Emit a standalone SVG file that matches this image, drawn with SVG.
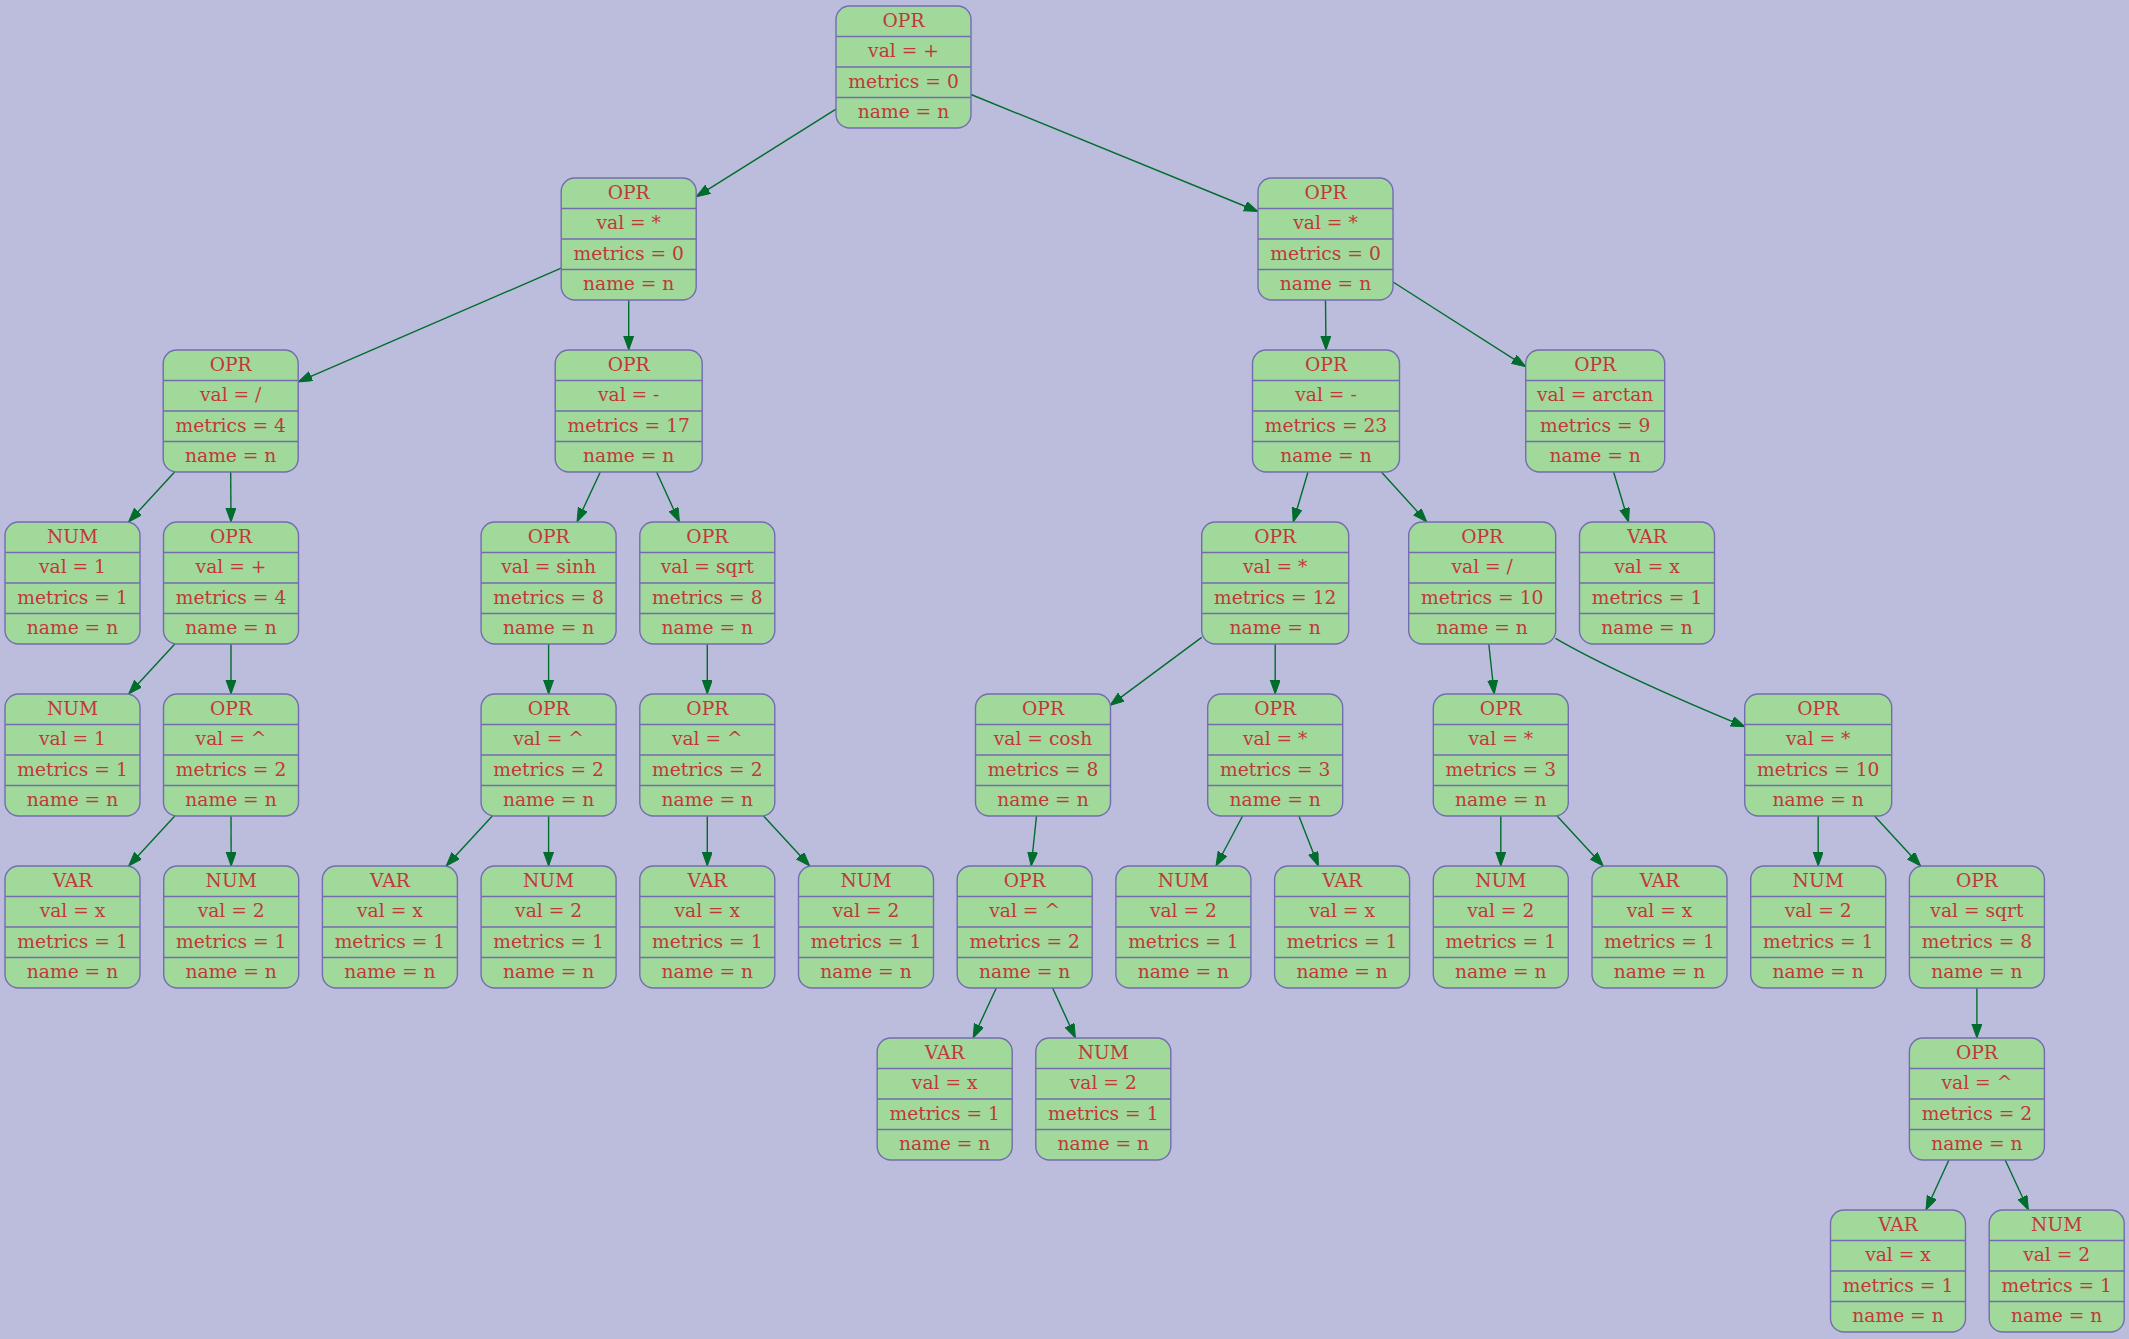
<svg xmlns="http://www.w3.org/2000/svg" width="2129" height="1339" viewBox="0 0 2129 1339">
<style>
.bg{fill:#bcbddc}
.box{fill:#a1d99b;stroke:#756bb1;stroke-width:1.4}
.sep{stroke:#756bb1;stroke-width:1.4;fill:none}
text{font-family:"DejaVu Serif","Liberation Serif",serif;font-size:18.67px;fill:#c03838;text-anchor:middle}
.e{stroke:#006d2c;stroke-width:1.4;fill:none;marker-end:url(#ah)}
</style>
<defs>
<marker id="ah" markerUnits="userSpaceOnUse" markerWidth="15" markerHeight="11" refX="14" refY="5" orient="auto">
<path d="M0,0L14,5L0,10z" fill="#006d2c" stroke="#006d2c" stroke-width="1"/>
</marker>
<g id="b135"><rect class="box" width="135" height="122" rx="13.5"/><path class="sep" d="M0,30.5H135M0,61H135M0,91.5H135"/></g>
<g id="b147"><rect class="box" width="147" height="122" rx="13.5"/><path class="sep" d="M0,30.5H147M0,61H147M0,91.5H147"/></g>
<g id="b139"><rect class="box" width="139" height="122" rx="13.5"/><path class="sep" d="M0,30.5H139M0,61H139M0,91.5H139"/></g>
</defs>
<rect class="bg" x="0" y="0" width="2129" height="1339"/>
<g id="edges">
<path class="e" d="M836,109.2L696.2,196.8"/>
<path class="e" d="M971,94.5L1258,211.5"/>
<path class="e" d="M561.2,268.2L298.2,381.8"/>
<path class="e" d="M628.7,300L628.7,350"/>
<path class="e" d="M1325.5,300L1326,350"/>
<path class="e" d="M1393,282L1525.7,366.7"/>
<path class="e" d="M174.6,472L128.6,522"/>
<path class="e" d="M230.7,472L231,522"/>
<path class="e" d="M600.3,472L577,522"/>
<path class="e" d="M656.6,472L679.4,522"/>
<path class="e" d="M1308,472L1293.2,522"/>
<path class="e" d="M1381.4,472L1426.8,522"/>
<path class="e" d="M1613.6,472L1628.6,522"/>
<path class="e" d="M174.8,644L128.7,694"/>
<path class="e" d="M231,644L231,694"/>
<path class="e" d="M548.6,644L548.6,694"/>
<path class="e" d="M707.3,644L707.3,694"/>
<path class="e" d="M1201.7,637.4L1110,705.4"/>
<path class="e" d="M1275.2,644L1275.2,694"/>
<path class="e" d="M1488.8,644L1494.2,694"/>
<path class="e" d="M1555.5,638.3C1610,670 1690,704 1745,726.7"/>
<path class="e" d="M174.8,816L128.7,866"/>
<path class="e" d="M231,816L231.2,866"/>
<path class="e" d="M492.3,816L446.2,866"/>
<path class="e" d="M548.6,816L548.6,866"/>
<path class="e" d="M707.3,816L707.3,866"/>
<path class="e" d="M763.6,816L809.7,866"/>
<path class="e" d="M1036.5,816L1031.2,866"/>
<path class="e" d="M1242.6,816L1216,866"/>
<path class="e" d="M1298.9,816L1318.4,866"/>
<path class="e" d="M1500.8,816L1500.8,866"/>
<path class="e" d="M1557.1,816L1603.2,866"/>
<path class="e" d="M1818.2,816L1818.2,866"/>
<path class="e" d="M1874.5,816L1920.6,866"/>
<path class="e" d="M996.3,988L973.1,1038"/>
<path class="e" d="M1052.6,988L1075.4,1038"/>
<path class="e" d="M1976.9,988L1976.9,1038"/>
<path class="e" d="M1948.9,1160L1926,1210"/>
<path class="e" d="M2005.2,1160L2028.4,1210"/>
</g>
<g id="n0" transform="translate(836,6)"><use href="#b135"/><text x="67.5" y="20.5">OPR</text><text x="67.5" y="51">val = +</text><text x="67.5" y="81.5">metrics = 0</text><text x="67.5" y="112">name = n</text></g>
<g id="n1" transform="translate(561.2,178)"><use href="#b135"/><text x="67.5" y="20.5">OPR</text><text x="67.5" y="51">val = *</text><text x="67.5" y="81.5">metrics = 0</text><text x="67.5" y="112">name = n</text></g>
<g id="n2" transform="translate(1258,178)"><use href="#b135"/><text x="67.5" y="20.5">OPR</text><text x="67.5" y="51">val = *</text><text x="67.5" y="81.5">metrics = 0</text><text x="67.5" y="112">name = n</text></g>
<g id="n3" transform="translate(163.2,350)"><use href="#b135"/><text x="67.5" y="20.5">OPR</text><text x="67.5" y="51">val = /</text><text x="67.5" y="81.5">metrics = 4</text><text x="67.5" y="112">name = n</text></g>
<g id="n4" transform="translate(555.2,350)"><use href="#b147"/><text x="73.5" y="20.5">OPR</text><text x="73.5" y="51">val = -</text><text x="73.5" y="81.5">metrics = 17</text><text x="73.5" y="112">name = n</text></g>
<g id="n5" transform="translate(1252.5,350)"><use href="#b147"/><text x="73.5" y="20.5">OPR</text><text x="73.5" y="51">val = -</text><text x="73.5" y="81.5">metrics = 23</text><text x="73.5" y="112">name = n</text></g>
<g id="n6" transform="translate(1525.7,350)"><use href="#b139"/><text x="69.5" y="20.5">OPR</text><text x="69.5" y="51">val = arctan</text><text x="69.5" y="81.5">metrics = 9</text><text x="69.5" y="112">name = n</text></g>
<g id="n7" transform="translate(5,522)"><use href="#b135"/><text x="67.5" y="20.5">NUM</text><text x="67.5" y="51">val = 1</text><text x="67.5" y="81.5">metrics = 1</text><text x="67.5" y="112">name = n</text></g>
<g id="n8" transform="translate(163.5,522)"><use href="#b135"/><text x="67.5" y="20.5">OPR</text><text x="67.5" y="51">val = +</text><text x="67.5" y="81.5">metrics = 4</text><text x="67.5" y="112">name = n</text></g>
<g id="n9" transform="translate(481.1,522)"><use href="#b135"/><text x="67.5" y="20.5">OPR</text><text x="67.5" y="51">val = sinh</text><text x="67.5" y="81.5">metrics = 8</text><text x="67.5" y="112">name = n</text></g>
<g id="n10" transform="translate(639.8,522)"><use href="#b135"/><text x="67.5" y="20.5">OPR</text><text x="67.5" y="51">val = sqrt</text><text x="67.5" y="81.5">metrics = 8</text><text x="67.5" y="112">name = n</text></g>
<g id="n11" transform="translate(1201.7,522)"><use href="#b147"/><text x="73.5" y="20.5">OPR</text><text x="73.5" y="51">val = *</text><text x="73.5" y="81.5">metrics = 12</text><text x="73.5" y="112">name = n</text></g>
<g id="n12" transform="translate(1408.7,522)"><use href="#b147"/><text x="73.5" y="20.5">OPR</text><text x="73.5" y="51">val = /</text><text x="73.5" y="81.5">metrics = 10</text><text x="73.5" y="112">name = n</text></g>
<g id="n13" transform="translate(1579.5,522)"><use href="#b135"/><text x="67.5" y="20.5">VAR</text><text x="67.5" y="51">val = x</text><text x="67.5" y="81.5">metrics = 1</text><text x="67.5" y="112">name = n</text></g>
<g id="n14" transform="translate(5,694)"><use href="#b135"/><text x="67.5" y="20.5">NUM</text><text x="67.5" y="51">val = 1</text><text x="67.5" y="81.5">metrics = 1</text><text x="67.5" y="112">name = n</text></g>
<g id="n15" transform="translate(163.5,694)"><use href="#b135"/><text x="67.5" y="20.5">OPR</text><text x="67.5" y="51">val = ^</text><text x="67.5" y="81.5">metrics = 2</text><text x="67.5" y="112">name = n</text></g>
<g id="n16" transform="translate(481.1,694)"><use href="#b135"/><text x="67.5" y="20.5">OPR</text><text x="67.5" y="51">val = ^</text><text x="67.5" y="81.5">metrics = 2</text><text x="67.5" y="112">name = n</text></g>
<g id="n17" transform="translate(639.8,694)"><use href="#b135"/><text x="67.5" y="20.5">OPR</text><text x="67.5" y="51">val = ^</text><text x="67.5" y="81.5">metrics = 2</text><text x="67.5" y="112">name = n</text></g>
<g id="n18" transform="translate(975.5,694)"><use href="#b135"/><text x="67.5" y="20.5">OPR</text><text x="67.5" y="51">val = cosh</text><text x="67.5" y="81.5">metrics = 8</text><text x="67.5" y="112">name = n</text></g>
<g id="n19" transform="translate(1207.7,694)"><use href="#b135"/><text x="67.5" y="20.5">OPR</text><text x="67.5" y="51">val = *</text><text x="67.5" y="81.5">metrics = 3</text><text x="67.5" y="112">name = n</text></g>
<g id="n20" transform="translate(1433.3,694)"><use href="#b135"/><text x="67.5" y="20.5">OPR</text><text x="67.5" y="51">val = *</text><text x="67.5" y="81.5">metrics = 3</text><text x="67.5" y="112">name = n</text></g>
<g id="n21" transform="translate(1744.7,694)"><use href="#b147"/><text x="73.5" y="20.5">OPR</text><text x="73.5" y="51">val = *</text><text x="73.5" y="81.5">metrics = 10</text><text x="73.5" y="112">name = n</text></g>
<g id="n22" transform="translate(5,866)"><use href="#b135"/><text x="67.5" y="20.5">VAR</text><text x="67.5" y="51">val = x</text><text x="67.5" y="81.5">metrics = 1</text><text x="67.5" y="112">name = n</text></g>
<g id="n23" transform="translate(163.7,866)"><use href="#b135"/><text x="67.5" y="20.5">NUM</text><text x="67.5" y="51">val = 2</text><text x="67.5" y="81.5">metrics = 1</text><text x="67.5" y="112">name = n</text></g>
<g id="n24" transform="translate(322.4,866)"><use href="#b135"/><text x="67.5" y="20.5">VAR</text><text x="67.5" y="51">val = x</text><text x="67.5" y="81.5">metrics = 1</text><text x="67.5" y="112">name = n</text></g>
<g id="n25" transform="translate(481.1,866)"><use href="#b135"/><text x="67.5" y="20.5">NUM</text><text x="67.5" y="51">val = 2</text><text x="67.5" y="81.5">metrics = 1</text><text x="67.5" y="112">name = n</text></g>
<g id="n26" transform="translate(639.8,866)"><use href="#b135"/><text x="67.5" y="20.5">VAR</text><text x="67.5" y="51">val = x</text><text x="67.5" y="81.5">metrics = 1</text><text x="67.5" y="112">name = n</text></g>
<g id="n27" transform="translate(798.5,866)"><use href="#b135"/><text x="67.5" y="20.5">NUM</text><text x="67.5" y="51">val = 2</text><text x="67.5" y="81.5">metrics = 1</text><text x="67.5" y="112">name = n</text></g>
<g id="n28" transform="translate(957.2,866)"><use href="#b135"/><text x="67.5" y="20.5">OPR</text><text x="67.5" y="51">val = ^</text><text x="67.5" y="81.5">metrics = 2</text><text x="67.5" y="112">name = n</text></g>
<g id="n29" transform="translate(1115.9,866)"><use href="#b135"/><text x="67.5" y="20.5">NUM</text><text x="67.5" y="51">val = 2</text><text x="67.5" y="81.5">metrics = 1</text><text x="67.5" y="112">name = n</text></g>
<g id="n30" transform="translate(1274.6,866)"><use href="#b135"/><text x="67.5" y="20.5">VAR</text><text x="67.5" y="51">val = x</text><text x="67.5" y="81.5">metrics = 1</text><text x="67.5" y="112">name = n</text></g>
<g id="n31" transform="translate(1433.3,866)"><use href="#b135"/><text x="67.5" y="20.5">NUM</text><text x="67.5" y="51">val = 2</text><text x="67.5" y="81.5">metrics = 1</text><text x="67.5" y="112">name = n</text></g>
<g id="n32" transform="translate(1592,866)"><use href="#b135"/><text x="67.5" y="20.5">VAR</text><text x="67.5" y="51">val = x</text><text x="67.5" y="81.5">metrics = 1</text><text x="67.5" y="112">name = n</text></g>
<g id="n33" transform="translate(1750.7,866)"><use href="#b135"/><text x="67.5" y="20.5">NUM</text><text x="67.5" y="51">val = 2</text><text x="67.5" y="81.5">metrics = 1</text><text x="67.5" y="112">name = n</text></g>
<g id="n34" transform="translate(1909.4,866)"><use href="#b135"/><text x="67.5" y="20.5">OPR</text><text x="67.5" y="51">val = sqrt</text><text x="67.5" y="81.5">metrics = 8</text><text x="67.5" y="112">name = n</text></g>
<g id="n35" transform="translate(877.2,1038)"><use href="#b135"/><text x="67.5" y="20.5">VAR</text><text x="67.5" y="51">val = x</text><text x="67.5" y="81.5">metrics = 1</text><text x="67.5" y="112">name = n</text></g>
<g id="n36" transform="translate(1035.8,1038)"><use href="#b135"/><text x="67.5" y="20.5">NUM</text><text x="67.5" y="51">val = 2</text><text x="67.5" y="81.5">metrics = 1</text><text x="67.5" y="112">name = n</text></g>
<g id="n37" transform="translate(1909.4,1038)"><use href="#b135"/><text x="67.5" y="20.5">OPR</text><text x="67.5" y="51">val = ^</text><text x="67.5" y="81.5">metrics = 2</text><text x="67.5" y="112">name = n</text></g>
<g id="n38" transform="translate(1830.5,1210)"><use href="#b135"/><text x="67.5" y="20.5">VAR</text><text x="67.5" y="51">val = x</text><text x="67.5" y="81.5">metrics = 1</text><text x="67.5" y="112">name = n</text></g>
<g id="n39" transform="translate(1989.2,1210)"><use href="#b135"/><text x="67.5" y="20.5">NUM</text><text x="67.5" y="51">val = 2</text><text x="67.5" y="81.5">metrics = 1</text><text x="67.5" y="112">name = n</text></g>
</svg>
